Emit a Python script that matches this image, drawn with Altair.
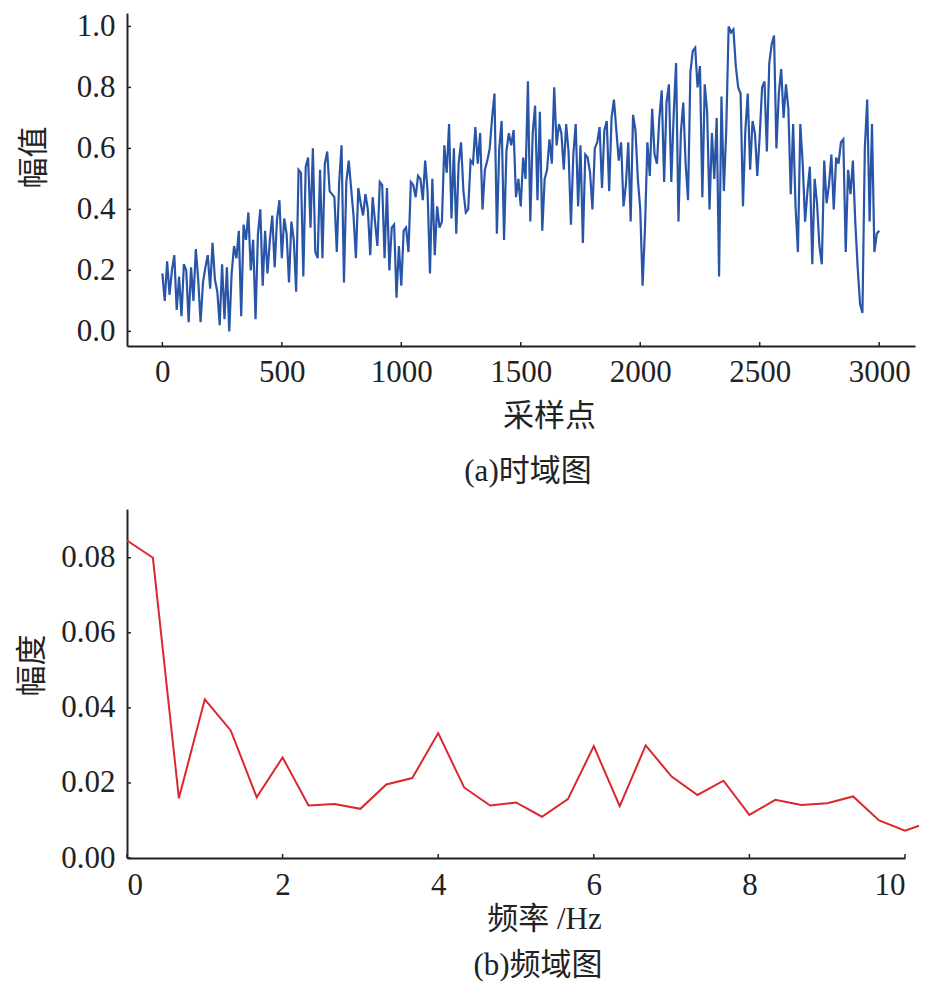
import altair as alt
import pandas as pd

FONT = "Liberation Serif, Noto Sans CJK SC"
BLUE = "#2855a7"
RED = "#dc272e"
AXC = "#222222"

# ---- (a) time domain: amplitude read every 10 samples ----
sample_step = 10
time_amp = [
    0.19, 0.10, 0.23, 0.12, 0.20, 0.25, 0.07, 0.18, 0.05, 0.22,
    0.20, 0.03, 0.21, 0.10, 0.27, 0.17, 0.03, 0.16, 0.21, 0.25,
    0.14, 0.29, 0.17, 0.13, 0.02, 0.22, 0.04, 0.21, 0.00, 0.19,
    0.28, 0.24, 0.33, 0.05, 0.35, 0.30, 0.39, 0.20, 0.30, 0.04,
    0.32, 0.40, 0.15, 0.33, 0.19, 0.30, 0.38, 0.21, 0.37, 0.43,
    0.24, 0.37, 0.32, 0.16, 0.36, 0.30, 0.13, 0.53, 0.52, 0.18,
    0.54, 0.57, 0.34, 0.60, 0.26, 0.24, 0.53, 0.24, 0.55, 0.59,
    0.46, 0.45, 0.44, 0.26, 0.49, 0.61, 0.16, 0.49, 0.56, 0.47,
    0.38, 0.24, 0.47, 0.42, 0.38, 0.45, 0.40, 0.25, 0.44, 0.36,
    0.28, 0.49, 0.48, 0.24, 0.47, 0.20, 0.34, 0.35, 0.11, 0.28,
    0.15, 0.33, 0.34, 0.26, 0.49, 0.48, 0.44, 0.51, 0.50, 0.43,
    0.56, 0.46, 0.19, 0.50, 0.25, 0.41, 0.34, 0.36, 0.61, 0.52,
    0.68, 0.37, 0.60, 0.32, 0.55, 0.62, 0.46, 0.39, 0.40, 0.56,
    0.55, 0.67, 0.55, 0.65, 0.40, 0.53, 0.56, 0.60, 0.70, 0.78,
    0.32, 0.60, 0.69, 0.30, 0.59, 0.65, 0.61, 0.66, 0.44, 0.50,
    0.41, 0.57, 0.50, 0.82, 0.36, 0.65, 0.74, 0.43, 0.72, 0.33,
    0.50, 0.53, 0.63, 0.55, 0.80, 0.61, 0.68, 0.65, 0.53, 0.68,
    0.59, 0.35, 0.58, 0.68, 0.41, 0.61, 0.29, 0.58, 0.57, 0.52,
    0.40, 0.60, 0.62, 0.67, 0.47, 0.66, 0.69, 0.46, 0.70, 0.76,
    0.66, 0.56, 0.62, 0.41, 0.48, 0.62, 0.36, 0.71, 0.66, 0.50,
    0.40, 0.15, 0.34, 0.62, 0.51, 0.73, 0.58, 0.55, 0.70, 0.79,
    0.49, 0.75, 0.81, 0.49, 0.71, 0.88, 0.36, 0.65, 0.75, 0.55,
    0.43, 0.85, 0.92, 0.93, 0.80, 0.87, 0.44, 0.81, 0.72, 0.40,
    0.65, 0.50, 0.70, 0.18, 0.77, 0.46, 0.66, 1.00, 0.98, 0.99,
    0.87, 0.80, 0.78, 0.41, 0.66, 0.78, 0.53, 0.69, 0.65, 0.51,
    0.64, 0.80, 0.82, 0.59, 0.88, 0.94, 0.97, 0.60, 0.78, 0.86,
    0.70, 0.81, 0.73, 0.45, 0.68, 0.41, 0.26, 0.68, 0.55, 0.36,
    0.46, 0.54, 0.22, 0.50, 0.42, 0.28, 0.22, 0.56, 0.42, 0.48,
    0.58, 0.40, 0.57, 0.55, 0.62, 0.63, 0.26, 0.53, 0.45, 0.56,
    0.36, 0.21, 0.09, 0.06, 0.60, 0.76, 0.36, 0.68, 0.26, 0.32,
    0.33,
]
sample_idx = [i * sample_step for i in range(len(time_amp))]
time_x_ticks = [0, 500, 1000, 1500, 2000, 2500, 3000]
time_y_ticks = [0.0, 0.2, 0.4, 0.6, 0.8, 1.0]

# ---- (b) frequency domain ----
freq_hz = [0.0, 0.333, 0.667, 1.0, 1.333, 1.667, 2.0, 2.333, 2.667, 3.0,
           3.333, 3.667, 4.0, 4.333, 4.667, 5.0, 5.333, 5.667, 6.0, 6.333,
           6.667, 7.0, 7.333, 7.667, 8.0, 8.333, 8.667, 9.0, 9.333, 9.667,
           10.0, 10.18]
freq_amp = [0.0846, 0.0800, 0.0159, 0.0423, 0.0340, 0.0162, 0.0268, 0.0140,
            0.0144, 0.0131, 0.0196, 0.0213, 0.0333, 0.0188, 0.0140, 0.0148,
            0.0110, 0.0157, 0.0298, 0.0138, 0.0300, 0.0217, 0.0168, 0.0206,
            0.0115, 0.0155, 0.0141, 0.0146, 0.0164, 0.0100, 0.0073, 0.0086]
freq_x_ticks = [0, 2, 4, 6, 8, 10]
freq_y_ticks = [0.0, 0.02, 0.04, 0.06, 0.08]

df_t = pd.DataFrame({"s": sample_idx, "v": time_amp})
df_f = pd.DataFrame({"f": freq_hz, "a": freq_amp})

W1, H1 = 788, 333
W2, H2 = 778, 349
TICK = 4


def ax(**kw):
    base = dict(domain=True, domainColor=AXC, domainWidth=2, ticks=False,
                grid=False, labelFont=FONT, labelFontSize=31, labelColor=AXC,
                titleFont=FONT, titleFontSize=31, titleFontWeight="normal",
                titleColor=AXC)
    base.update(kw)
    return alt.Axis(**base)


def caption(text, offset, dx):
    return alt.TitleParams(text=text, orient="bottom", anchor="middle",
                           font=FONT, fontSize=31, fontWeight="normal",
                           color=AXC, offset=offset, dx=dx)


# top chart
line_t = alt.Chart(df_t).mark_line(color=BLUE, strokeWidth=2.2).encode(
    x=alt.X("s:Q", scale=alt.Scale(domain=[-148, 3150], nice=False, zero=False),
            axis=ax(values=time_x_ticks, format="d", labelPadding=11,
                    title="采样点", titleX=422, titleY=70,
                    titleBaseline="middle", titleAlign="center")),
    y=alt.Y("v:Q", scale=alt.Scale(domain=[-0.048, 1.044], nice=False, zero=False),
            axis=ax(values=time_y_ticks, format=".1f", labelPadding=12,
                    title="幅值", titleX=-93, titleY=144,
                    titleBaseline="middle", titleAlign="center")),
)
xt_t = alt.Chart(pd.DataFrame({"t": time_x_ticks})).mark_rule(
    color=AXC, strokeWidth=1.5).encode(
    x="t:Q", y=alt.value(H1), y2=alt.value(H1 - TICK))
yt_t = alt.Chart(pd.DataFrame({"t": time_y_ticks})).mark_rule(
    color=AXC, strokeWidth=1.5).encode(
    y="t:Q", x=alt.value(0), x2=alt.value(TICK))
top = alt.layer(line_t, xt_t, yt_t).properties(
    width=W1, height=H1, title=caption("(a)时域图", 26, 7))

# bottom chart
line_f = alt.Chart(df_f).mark_line(color=RED, strokeWidth=2).encode(
    x=alt.X("f:Q", scale=alt.Scale(domain=[0, 10], nice=False, zero=False),
            axis=ax(values=freq_x_ticks, format="d", labelPadding=12,
                    title="频率 /Hz", titleX=417, titleY=61,
                    titleBaseline="middle", titleAlign="center")),
    y=alt.Y("a:Q", scale=alt.Scale(domain=[0, 0.093], nice=False, zero=False),
            axis=ax(values=freq_y_ticks, format=".2f", labelPadding=12,
                    title="幅度", titleX=-95, titleY=156,
                    titleBaseline="middle", titleAlign="center")),
)
xt_f = alt.Chart(pd.DataFrame({"t": freq_x_ticks})).mark_rule(
    color=AXC, strokeWidth=1.5).encode(
    x="t:Q", y=alt.value(H2), y2=alt.value(H2 - TICK))
yt_f = alt.Chart(pd.DataFrame({"t": freq_y_ticks})).mark_rule(
    color=AXC, strokeWidth=1.5).encode(
    y="t:Q", x=alt.value(0), x2=alt.value(TICK))
bottom = alt.layer(line_f, xt_f, yt_f).properties(
    width=W2, height=H2, title=caption("(b)频域图", 17, 22))

chart = alt.vconcat(top, bottom, spacing=163, bounds="flush").properties(
    padding={"left": 8, "top": 2, "right": 0, "bottom": 0}
).configure(font=FONT).configure_view(stroke="transparent", strokeWidth=0)

chart.save("out.html", embed_options={"renderer": "svg", "actions": False})
